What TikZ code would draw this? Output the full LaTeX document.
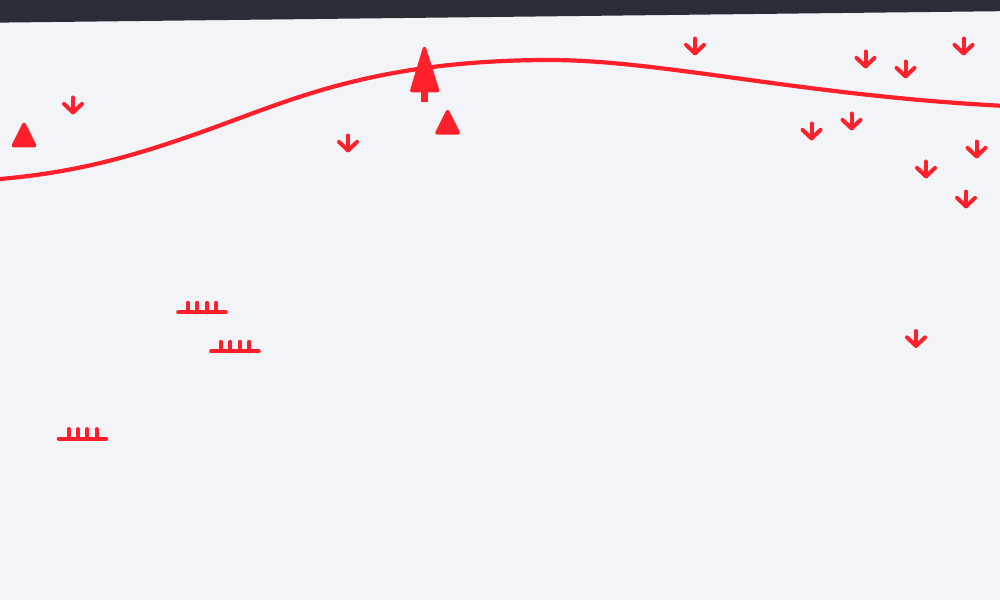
\documentclass[tikz,border=0pt]{standalone}
\definecolor{pagebg}{HTML}{F2F4F8}
\definecolor{topband}{HTML}{282D36}
\definecolor{markred}{HTML}{FF202B}
\tikzset{
  markline/.style = {draw = markred, line width = 4pt, line cap = round, line join = round},
  markfill/.style = {fill = markred, draw = markred, line width = 3.5pt, line join = round},
  downarrow/.pic = {
    \draw[markline] (0, -15.5) -- (0, -0.6);
    \draw[markline] (-9, -9.1) -- (0, -0.6) -- (9, -9.1);
  },
  smalltri/.pic = {
    \path[markfill] (0, -21.2) -- (-10.6, 0) -- (10.6, 0) -- cycle;
  },
  rake/.pic = {
    \draw[markline] (-23.8, 0) -- (23.8, 0);
    \draw[markline] (-14, 0) -- (-14, -9.5) (-4.6, 0) -- (-4.6, -9.5) (4.8, 0) -- (4.8, -9.5) (14.2, 0) -- (14.2, -9.5);
  }
}
\begin{document}
\begin{tikzpicture}[x = 1pt, y = -1pt]
\useasboundingbox (0, 0) rectangle (1000, 600);
\fill[pagebg] (0, 0) rectangle (1000, 600);
\fill[topband] (0, 0) -- (1000, 0) -- (1000, 11.2) -- (0, 22.6) -- cycle;
% ridge line
\draw[draw = markred, line width = 4.2pt] (0, 179) .. controls (80, 172) and (140, 155) .. (225, 123.5) .. controls (300, 96) and (385, 60) .. (550, 60) .. controls (660, 60) and (800, 95) .. (1000, 105.7);
% tree
\path[markfill] (424.4, 48.5) -- (411.8, 90.5) -- (437.6, 90.5) -- cycle;
\draw[markline, line width = 7.3pt, line cap = butt] (424.6, 90) -- (424.6, 100);
\fill[markred] (421, 98) rectangle (428.2, 101.8);
% triangles
\pic at (24, 145.5) {smalltri};
\pic at (447.6, 132.8) {smalltri};
% arrows
\pic at (73, 113) {downarrow};
\pic at (348, 151) {downarrow};
\pic at (695, 54) {downarrow};
\pic at (865.5, 67) {downarrow};
\pic at (905.5, 77) {downarrow};
\pic at (963.5, 54) {downarrow};
\pic at (811.5, 139) {downarrow};
\pic at (851.5, 129) {downarrow};
\pic at (976.5, 157) {downarrow};
\pic at (926, 177) {downarrow};
\pic at (966, 207) {downarrow};
\pic at (916, 346.5) {downarrow};
% rakes
\pic at (202, 312.3) {rake};
\pic at (235, 351.3) {rake};
\pic at (82.5, 438.6) {rake};
\end{tikzpicture}
\end{document}
